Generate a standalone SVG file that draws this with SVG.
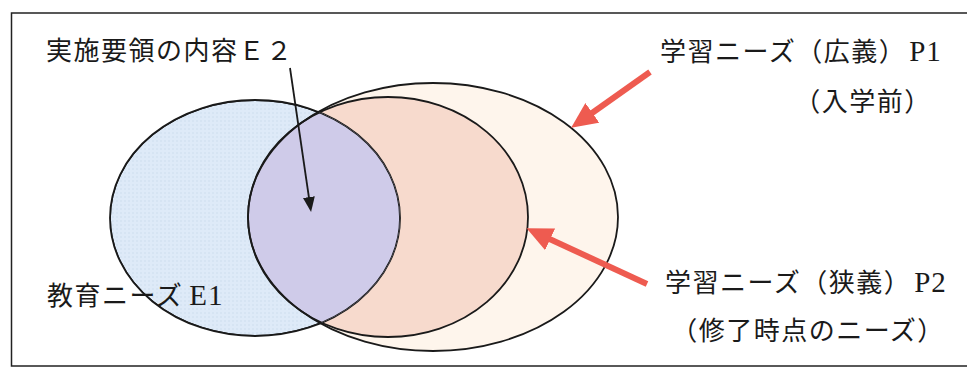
<svg xmlns="http://www.w3.org/2000/svg" xmlns:xlink="http://www.w3.org/1999/xlink" width="967" height="368" viewBox="0 0 967 368">
<style>
.outline{fill:none;stroke:#1a1a1a;stroke-width:1.8}
.lbl{font-family:"Liberation Serif","Noto Sans CJK JP",serif;font-size:26px;letter-spacing:1.5px;fill:#1a1a1a}
.lat{font-size:29px;letter-spacing:1px}
.red{stroke:#ee5b50;stroke-width:6;fill:none}
.blk{stroke:#1a1a1a;stroke-width:1.8;fill:none}
</style>
<defs>
<ellipse id="shP1" cx="433" cy="217" rx="185" ry="134"/>
<ellipse id="shP2" cx="388" cy="217" rx="140" ry="120"/>
<ellipse id="shE1" cx="255" cy="218" rx="145" ry="118"/>
<clipPath id="clipE1"><use xlink:href="#shE1"/></clipPath>
<pattern id="dots" width="4" height="4" patternUnits="userSpaceOnUse"><circle cx="1" cy="1" r="0.7" fill="#b8c8dd" opacity="0.6"/></pattern>
<marker id="redHead" markerUnits="userSpaceOnUse" markerWidth="26" markerHeight="24" refX="9" refY="12" orient="auto"><path d="M0,0 L26,12 L0,24 z" fill="#ee5b50"/></marker>
<marker id="blkHead" markerUnits="userSpaceOnUse" markerWidth="15" markerHeight="12" refX="5" refY="6" orient="auto"><path d="M0,0 L15,6 L0,12 z" fill="#1a1a1a"/></marker>
</defs>
<rect x="0" y="0" width="967" height="368" fill="#ffffff"/>
<rect x="11.5" y="13" width="970" height="353" fill="none" stroke="#222" stroke-width="1.5"/>
<g id="P1">
<use xlink:href="#shP1" fill="#fef5ec"/>
<use xlink:href="#shP1" class="outline"/>
</g>
<g id="P2">
<use xlink:href="#shP2" fill="#f7dacd"/>
<use xlink:href="#shP2" class="outline"/>
</g>
<g id="E1">
<use xlink:href="#shE1" fill="#deeaf8"/>
<use xlink:href="#shE1" fill="url(#dots)"/>
<use xlink:href="#shE1" class="outline"/>
</g>
<g id="E2" clip-path="url(#clipE1)">
<use xlink:href="#shP1" fill="#cfcbe9"/>
<use xlink:href="#shP1" class="outline"/>
<use xlink:href="#shP2" class="outline"/>
<use xlink:href="#shE1" class="outline" stroke-width="3.6"/>
</g>
<g id="connectors">
<line x1="290" y1="68" x2="309.6" y2="202" class="blk" marker-end="url(#blkHead)"/>
<line x1="650" y1="72" x2="585" y2="118" class="red" marker-end="url(#redHead)"/>
<line x1="647" y1="284" x2="542" y2="235.5" class="red" marker-end="url(#redHead)"/>
</g>
<g id="labels">
<text class="lbl" x="46" y="60">実施要領の内容Ｅ２</text>
<text class="lbl" x="660" y="61">学習ニーズ（広義）<tspan class="lat" dx="3">P1</tspan></text>
<text class="lbl" x="863" y="111" text-anchor="middle">（入学前）</text>
<text class="lbl" x="47" y="305">教育ニーズ<tspan class="lat" dx="6">E1</tspan></text>
<text class="lbl" x="665" y="292">学習ニーズ（狭義）<tspan class="lat" dx="3">P2</tspan></text>
<text class="lbl" x="808" y="340" text-anchor="middle">（修了時点のニーズ）</text>
</g>
</svg>
